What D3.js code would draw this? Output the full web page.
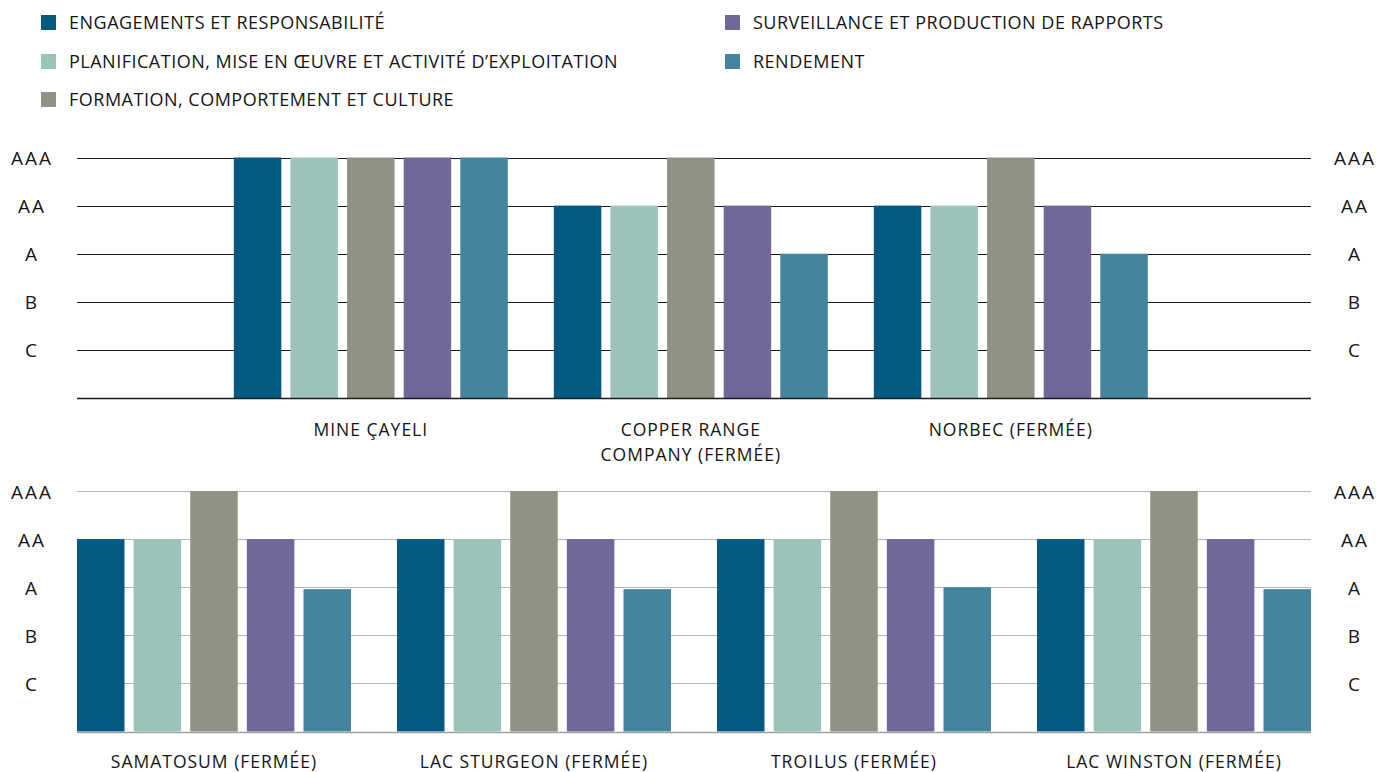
<!DOCTYPE html>
<html>
<head>
<meta charset="utf-8">
<script src="https://cdn.jsdelivr.net/npm/d3@7"></script>
<style>
  html, body { margin: 0; padding: 0; background: #ffffff; }
  svg { display: block; }
  text { font-family: "Open Sans", "Noto Sans", sans-serif; fill: #141414; }
</style>
</head>
<body>
<svg id="chart" width="1379" height="772"></svg>
<script>
// ---------- DATA ----------
const seriesNames = [
  "ENGAGEMENTS ET RESPONSABILITÉ",
  "PLANIFICATION, MISE EN ŒUVRE ET ACTIVITÉ D’EXPLOITATION",
  "FORMATION, COMPORTEMENT ET CULTURE",
  "SURVEILLANCE ET PRODUCTION DE RAPPORTS",
  "RENDEMENT"
];
const categories = [
  "MINE ÇAYELI",
  "COPPER RANGE COMPANY (FERMÉE)",
  "NORBEC (FERMÉE)",
  "SAMATOSUM (FERMÉE)",
  "LAC STURGEON (FERMÉE)",
  "TROILUS (FERMÉE)",
  "LAC WINSTON (FERMÉE)"
];
const categoryLabelLines = [
  ["MINE ÇAYELI"],
  ["COPPER RANGE", "COMPANY (FERMÉE)"],
  ["NORBEC (FERMÉE)"],
  ["SAMATOSUM (FERMÉE)"],
  ["LAC STURGEON (FERMÉE)"],
  ["TROILUS (FERMÉE)"],
  ["LAC WINSTON (FERMÉE)"]
];
const topCategories = categories.slice(0, 3);
const bottomCategories = categories.slice(3);

// rating scale: C=1, B=2, A=3, AA=4, AAA=5
const ratingValues = [1, 2, 3, 4, 5];
const ratingLabels = ["C", "B", "A", "AA", "AAA"];

const engagements   = [5, 4, 4, 4, 4, 4, 4];
const planification = [5, 4, 4, 4, 4, 4, 4];
const formation     = [5, 5, 5, 5, 5, 5, 5];
const surveillance  = [5, 4, 4, 4, 4, 4, 4];
const rendement     = [5, 3, 3, 2.96, 2.96, 3, 2.96];

const seriesValues = [engagements, planification, formation, surveillance, rendement];
const colors = ["#025a82", "#9cc3b9", "#919283", "#716799", "#44849e"];

// ---------- BUILD ----------
const rows = categories.map((c, i) => ({
  category: c,
  lines: categoryLabelLines[i],
  values: seriesNames.map((s, j) => ({ series: s, value: seriesValues[j][i], color: colors[j] }))
}));

const svg = d3.select("#chart");
const left = 77, right = 1311;

// legend
const legendPos = [
  { x: 41, y: 15 }, { x: 41, y: 54 }, { x: 41, y: 92 },
  { x: 725, y: 15 }, { x: 725, y: 54 }
];
const legend = svg.append("g");
seriesNames.forEach((name, i) => {
  const g = legend.append("g").attr("transform", `translate(${legendPos[i].x},${legendPos[i].y})`);
  g.append("rect").attr("width", 15).attr("height", 15).attr("fill", colors[i]);
  g.append("text").attr("x", 28).attr("y", 14)
    .style("font-size", "18px").style("letter-spacing", "0.5px")
    .text(name);
});

const inner = d3.scaleBand().domain(seriesNames).paddingInner(0.161).paddingOuter(0);

function panel(cats, yTop, yBase, gridColor, baseColor, paddingOuter, align, labelY) {
  const x = d3.scaleBand().domain(cats).range([left, right])
    .paddingInner(0.14375).paddingOuter(paddingOuter).align(align);
  const y = d3.scaleLinear().domain([0, 5]).range([yBase, yTop]);
  inner.range([0, x.bandwidth()]);
  const g = svg.append("g");

  // gridlines
  g.selectAll("line.grid").data(ratingValues).join("line")
    .attr("x1", left).attr("x2", right)
    .attr("y1", d => Math.round(y(d)) + 0.5).attr("y2", d => Math.round(y(d)) + 0.5)
    .attr("stroke", gridColor).attr("stroke-width", 1.2);

  // bars
  const data = rows.filter(r => cats.includes(r.category));
  const groups = g.selectAll("g.grp").data(data).join("g")
    .attr("transform", d => `translate(${x(d.category)},0)`);
  groups.selectAll("rect").data(d => d.values).join("rect")
    .attr("x", d => inner(d.series))
    .attr("width", inner.bandwidth())
    .attr("y", d => y(d.value))
    .attr("height", d => y(0) - y(d.value))
    .attr("fill", d => d.color);

  // baseline
  g.append("line").attr("x1", left).attr("x2", right)
    .attr("y1", Math.round(y(0)) + 0.5).attr("y2", Math.round(y(0)) + 0.5)
    .attr("stroke", baseColor).attr("stroke-width", 1.5);

  // rating labels (both sides)
  const axL = d3.axisLeft(y).tickValues(ratingValues)
    .tickFormat(d => ratingLabels[ratingValues.indexOf(d)]).tickSize(0).tickPadding(0);
  const axR = d3.axisRight(y).tickValues(ratingValues)
    .tickFormat(d => ratingLabels[ratingValues.indexOf(d)]).tickSize(0).tickPadding(0);
  const gl = g.append("g").attr("transform", "translate(32,1)").call(axL);
  const gr = g.append("g").attr("transform", "translate(1355,1)").call(axR);
  [gl, gr].forEach(a => {
    a.select(".domain").remove();
    a.selectAll("text").attr("text-anchor", "middle").attr("x", 0)
      .style("font-size", "19px").style("letter-spacing", "2px")
      .style("font-family", "'Open Sans', sans-serif").attr("fill", "#141414");
  });

  // category labels
  groups.append("text")
    .attr("x", x.bandwidth() / 2)
    .attr("text-anchor", "middle")
    .style("font-size", "17.5px").style("letter-spacing", "1px")
    .selectAll("tspan").data(d => d.lines).join("tspan")
    .attr("x", x.bandwidth() / 2)
    .attr("y", (d, i) => labelY + i * 25)
    .text(d => d);
}

panel(topCategories, 157.5, 398, "#1a1a1a", "#1a1a1a", 0.5, 0.49, 436);
panel(bottomCategories, 491, 731.5, "#b3b3b3", "#a0a0a0", 0, 0.5, 768);
</script>
</body>
</html>
